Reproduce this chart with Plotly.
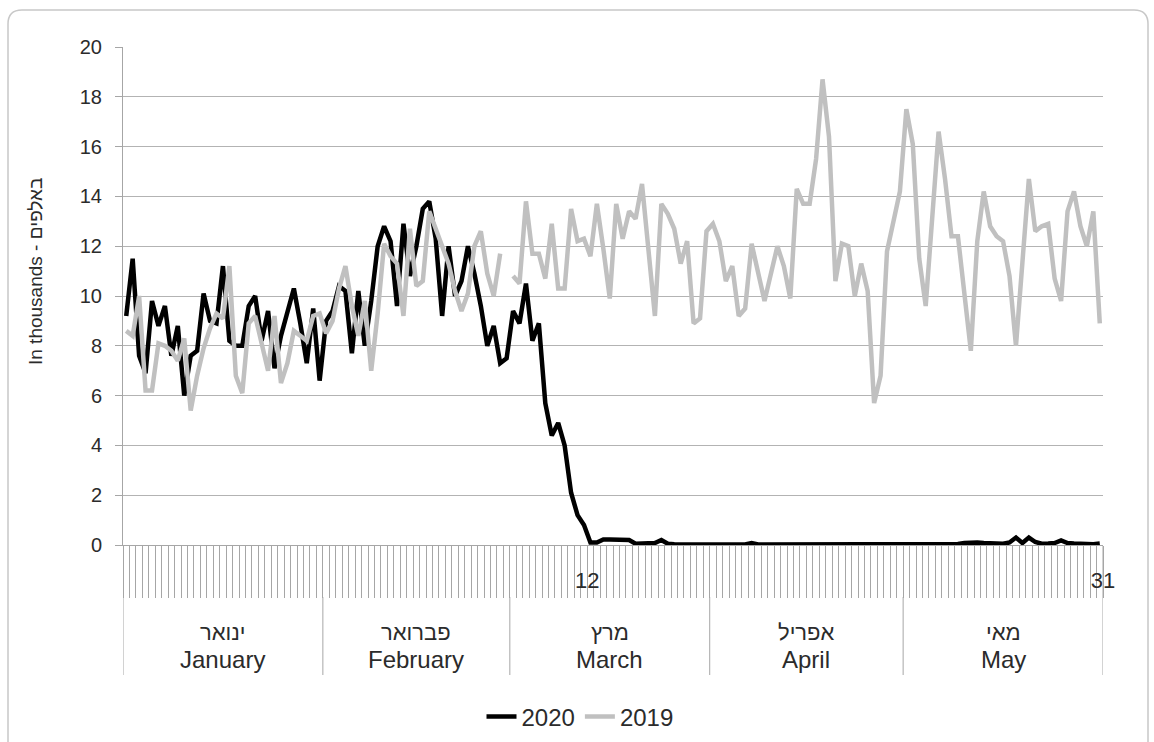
import plotly.graph_objects as go
import pandas as pd

# ---------------- data ----------------
dates = pd.date_range("2020-01-01", "2020-05-31", freq="D")

values_2020 = [
    # January
    9.2, 11.5, 7.6, 6.9, 9.8, 8.8, 9.6, 7.6, 8.8, 6.0, 7.6, 7.8, 10.1, 9.0, 8.9, 11.2,
    8.2, 8.0, 8.0, 9.6, 10.0, 8.2, 9.4, 7.1, 8.4, 9.3, 10.3, 8.9, 7.3, 9.5, 6.6,
    # February
    9.0, 9.4, 10.4, 10.2, 7.7, 10.2, 8.0, 9.8, 12.0, 12.8, 12.2, 9.6, 12.9, 10.8, 12.0,
    13.5, 13.8, 12.3, 9.2, 12.0, 10.0, 10.6, 12.0, 10.9, 9.6, 8.0, 8.8, 7.3, 7.5,
    # March
    9.4, 8.9, 10.5, 8.2, 8.9, 5.7, 4.4, 4.9, 4.0, 2.1, 1.2, 0.8, 0.1, 0.1, 0.22, 0.22,
    0.22, 0.22, 0.2, 0.05, 0.05, 0.05, 0.08, 0.2, 0.05, 0.03, 0.02, 0.02, 0.02, 0.02, 0.02,
    # April
    0.02, 0.02, 0.02, 0.02, 0.02, 0.02, 0.08, 0.02, 0.02, 0.02, 0.02, 0.02, 0.02, 0.02, 0.02,
    0.02, 0.02, 0.02, 0.02, 0.02, 0.02, 0.02, 0.02, 0.02, 0.02, 0.02, 0.02, 0.02, 0.02, 0.02,
    # May
    0.02, 0.02, 0.02, 0.02, 0.02, 0.05, 0.03, 0.06, 0.04, 0.08, 0.1, 0.1, 0.08, 0.06, 0.08,
    0.05, 0.1, 0.3, 0.08, 0.3, 0.12, 0.05, 0.06, 0.08, 0.18, 0.08, 0.06, 0.04, 0.05, 0.03, 0.06,
]

values_2019 = [
    # January
    8.6, 8.4, 10.0, 6.2, 6.2, 8.1, 8.0, 7.8, 7.4, 8.3, 5.4, 6.8, 7.9, 8.7, 9.3, 9.1,
    11.2, 6.8, 6.1, 8.9, 9.2, 8.1, 7.0, 9.2, 6.5, 7.3, 8.6, 8.4, 8.2, 9.2, 9.3,
    # February (no 29th in 2019)
    8.5, 9.0, 10.3, 11.2, 9.6, 8.4, 9.8, 7.0, 9.3, 12.1, 11.6, 11.3, 9.2, 12.7, 10.4,
    10.6, 13.4, 12.7, 12.0, 11.3, 10.2, 9.4, 10.1, 12.0, 12.6, 10.9, 10.0, 11.7, None,
    # March
    10.8, 10.5, 13.8, 11.7, 11.7, 10.7, 12.9, 10.3, 10.3, 13.5, 12.2, 12.3, 11.6, 13.7, 11.9,
    9.9, 13.7, 12.3, 13.4, 13.1, 14.5, 11.8, 9.2, 13.7, 13.3, 12.7, 11.3, 12.2, 8.9, 9.1, 12.6,
    # April
    12.9, 12.2, 10.6, 11.2, 9.2, 9.5, 12.1, 10.9, 9.8, 10.9, 12.0, 11.2, 9.9, 14.3, 13.7,
    13.7, 15.5, 18.7, 16.4, 10.6, 12.1, 12.0, 10.0, 11.3, 10.2, 5.7, 6.8, 11.8, 13.0, 14.2,
    # May
    17.5, 16.1, 11.5, 9.6, 13.1, 16.6, 14.7, 12.4, 12.4, 10.0, 7.8, 12.2, 14.2, 12.8, 12.4,
    12.2, 10.8, 8.0, 11.5, 14.7, 12.6, 12.8, 12.9, 10.7, 9.8, 13.4, 14.2, 12.8, 12.0, 13.4, 8.9,
]

months_he = ["ינואר", "פברואר", "מרץ", "אפריל", "מאי"]
months_en = ["January", "February", "March", "April", "May"]
month_days = [31, 29, 31, 30, 31]

day_labels = {"2020-03-12": "12", "2020-05-31": "31"}   # labelled days on the axis

series_names = ["2020", "2019"]
series_colors = ["#000000", "#c0c0c0"]

# ---------------- figure ----------------
n = len(dates)
x = list(range(n))

W, H = 1154, 742
ML, MR, MT, MB = 123, 51, 47, 197
PW, PH = W - ML - MR, H - MT - MB


def px_to_py(py):
    """pixel row -> paper y"""
    return (H - MB - py) / PH


def px_to_px(pxx):
    """pixel column -> paper x"""
    return (pxx - ML) / PW


fig = go.Figure()
for name, vals, col in zip(series_names, [values_2020, values_2019], series_colors):
    fig.add_trace(go.Scatter(
        x=x, y=vals, mode="lines", name=name,
        line=dict(color=col, width=4.5),
        connectgaps=False, hoverinfo="skip",
    ))

# x ticks at the day boundaries, with the two labelled days
tickvals = [i - 0.5 for i in range(n + 1)]
ticktext = [""] * (n + 1)
for i, d in enumerate(dates):
    key = d.strftime("%Y-%m-%d")
    if key in day_labels:
        ticktext[i + 1] = day_labels[key]

AX = "#a6a6a6"
TXT = "#2b2b2b"

fig.update_xaxes(
    range=[-0.5, n - 0.5],
    tickmode="array", tickvals=tickvals, ticktext=ticktext,
    ticks="outside", ticklen=52, tickwidth=1, tickcolor=AX,
    ticklabelstandoff=-36,
    showline=True, linecolor=AX, linewidth=1,
    showgrid=False, zeroline=False,
    tickfont=dict(family="Liberation Sans", size=22, color=TXT),
    fixedrange=True,
)
fig.update_yaxes(
    range=[0, 20], dtick=2, tick0=0,
    ticks="outside", ticklen=7, tickwidth=1, tickcolor=AX,
    showline=True, linecolor=AX, linewidth=1,
    showgrid=True, gridcolor="#b3b3b3", gridwidth=1,
    zeroline=False,
    ticklabelstandoff=9,
    tickfont=dict(family="Liberation Sans", size=20, color=TXT),
    fixedrange=True,
)

shapes = []
annotations = []

# month category band: separators and labels
bounds = [-0.5]
for md in month_days:
    bounds.append(bounds[-1] + md)
y_sep_top = px_to_py(597)
y_band_bot = px_to_py(675)
for k, b in enumerate(bounds):
    top = 0 if k in (0, len(bounds) - 1) else y_sep_top
    shapes.append(dict(type="line", xref="x", yref="paper", x0=b, x1=b,
                       y0=top, y1=y_band_bot, line=dict(color=AX, width=1)))
for k in range(len(month_days)):
    cx = (bounds[k] + bounds[k + 1]) / 2
    annotations.append(dict(x=cx, y=px_to_py(632), xref="x", yref="paper",
                            text=months_he[k], showarrow=False,
                            font=dict(family="Liberation Sans", size=22, color=TXT),
                            xanchor="center", yanchor="middle"))
    annotations.append(dict(x=cx, y=px_to_py(659), xref="x", yref="paper",
                            text=months_en[k], showarrow=False,
                            font=dict(family="Liberation Sans", size=24, color=TXT),
                            xanchor="center", yanchor="middle"))

# y axis title
annotations.append(dict(x=px_to_px(35), y=px_to_py(272), xref="paper", yref="paper",
                        text="In thousands - באלפים", textangle=-90, showarrow=False,
                        font=dict(family="Liberation Sans", size=19, color=TXT),
                        xanchor="center", yanchor="middle"))

# rounded outer border
x0, x1 = px_to_px(8), px_to_px(1148)
y0, y1 = px_to_py(10), px_to_py(780)
rx, ry = 14 / PW, 14 / PH
path = (f"M {x0 + rx},{y0} L {x1 - rx},{y0} Q {x1},{y0} {x1},{y0 - ry} "
        f"L {x1},{y1 + ry} Q {x1},{y1} {x1 - rx},{y1} "
        f"L {x0 + rx},{y1} Q {x0},{y1} {x0},{y1 + ry} "
        f"L {x0},{y0 - ry} Q {x0},{y0} {x0 + rx},{y0} Z")
shapes.append(dict(type="path", xref="paper", yref="paper", path=path,
                   line=dict(color="#c8c8c8", width=1.5), layer="below"))

fig.update_layout(
    width=W, height=H,
    margin=dict(l=ML, r=MR, t=MT, b=MB, pad=0, autoexpand=False),
    paper_bgcolor="white", plot_bgcolor="white",
    showlegend=True,
    legend=dict(orientation="h", x=px_to_px(580), y=px_to_py(717),
                xanchor="center", yanchor="middle",
                font=dict(family="Liberation Sans", size=24, color=TXT),
                itemwidth=30, bgcolor="rgba(0,0,0,0)"),
    shapes=shapes, annotations=annotations,
    hovermode=False,
)

fig.write_html("out.html", include_plotlyjs=True, full_html=True,
               config={"displayModeBar": False, "staticPlot": False},
               post_script="document.body.style.margin='0';")
